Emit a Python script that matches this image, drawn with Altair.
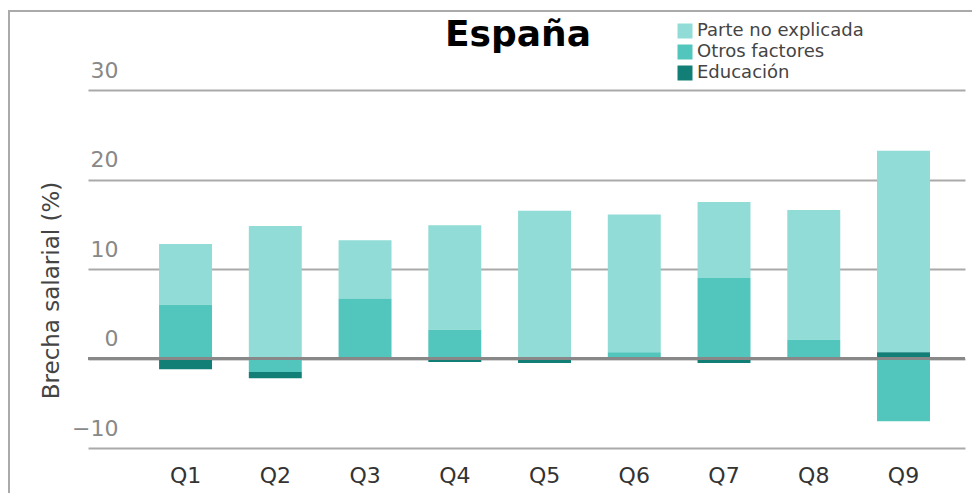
import altair as alt
import pandas as pd

quintiles = ["Q1", "Q2", "Q3", "Q4", "Q5", "Q6", "Q7", "Q8", "Q9"]
parte = [6.8, 14.8, 6.5, 11.7, 16.5, 15.4, 8.5, 14.5, 22.5]
otros = [6.0, -1.5, 6.7, 3.2, -0.1, 0.7, 9.0, 2.1, -7.0]
educ = [-1.2, -0.7, 0.0, -0.4, -0.4, 0.0, -0.5, 0.0, 0.7]
series = ["Parte no explicada", "Otros factores", "Educación"]
colors = ["#91dcd6", "#52c6bd", "#127f77"]
stack_rank = {"Otros factores": 0, "Educación": 1, "Parte no explicada": 2}
title_text = ["España"]

rows = []
for i, q in enumerate(quintiles):
    for s, vals in zip(series, [parte, otros, educ]):
        rows.append({"q": q, "serie": s, "valor": vals[i], "orden": stack_rank[s]})
df = pd.DataFrame(rows)

FONT = "DejaVu Sans"

bars = alt.Chart(df).mark_bar().encode(
    x=alt.X("q:N", sort=quintiles,
            scale=alt.Scale(paddingInner=0.41, paddingOuter=0.591, align=0.67),
            axis=alt.Axis(title=None, labelAngle=0, labelFontSize=22, labelColor="#333",
                          labelFont=FONT, labelPadding=17, domain=False, ticks=False, grid=False)),
    y=alt.Y("valor:Q", stack="zero",
            scale=alt.Scale(domain=[-10, 30], nice=False),
            axis=alt.Axis(values=[-10, 0, 10, 20, 30], title="Brecha salarial (%)",
                          titleX=-30, titleY=200, titleAngle=-90, titleBaseline="alphabetic",
                          titleAlign="center", titleFontSize=23, titleFont=FONT,
                          titleFontWeight="normal", titleColor="#444",
                          labelAlign="right", labelBaseline="alphabetic", labelOffset=-13,
                          labelPadding=-30, ticks=False, domain=False, labelFontSize=22,
                          labelColor="#888", labelFont=FONT, gridColor="#aaa", gridWidth=2)),
    color=alt.Color("serie:N", scale=alt.Scale(domain=series, range=colors),
                    legend=alt.Legend(title=None, orient="none", legendX=588, legendY=-68,
                                      direction="vertical", symbolType="square", symbolSize=225,
                                      symbolStrokeWidth=0, symbolOpacity=1, labelFontSize=18,
                                      labelColor="#444", labelFont=FONT, rowPadding=3,
                                      labelOffset=3, padding=0, labelLimit=400)),
    order=alt.Order("orden:Q"),
)

zero = alt.Chart(pd.DataFrame({"y": [0]})).mark_rule(color="#888", strokeWidth=3).encode(
    y=alt.datum(0)
)

title = alt.Chart(pd.DataFrame({"t": title_text})).mark_text(
    font=FONT, fontWeight="bold", fontSize=36, align="center", baseline="alphabetic", color="#000"
).encode(text="t:N", x=alt.value(430), y=alt.value(-44))

frame_left = alt.Chart(pd.DataFrame({"a": [0]})).mark_rule(color="#aaa", strokeWidth=2).encode(
    x=alt.value(-79), y=alt.value(-80), y2=alt.value(420)
)
frame_top = alt.Chart(pd.DataFrame({"a": [0]})).mark_rule(color="#aaa", strokeWidth=2).encode(
    x=alt.value(-80), x2=alt.value(890), y=alt.value(-79)
)

chart = alt.layer(bars, zero, title, frame_left, frame_top).properties(
    width=877, height=358,
    autosize=alt.AutoSizeParams(type="none"),
    padding={"left": 80, "top": 82, "right": 7, "bottom": 45},
    background="white",
).configure_view(stroke=None)

chart.save("out.html", embed_options={"renderer": "svg", "actions": False})
